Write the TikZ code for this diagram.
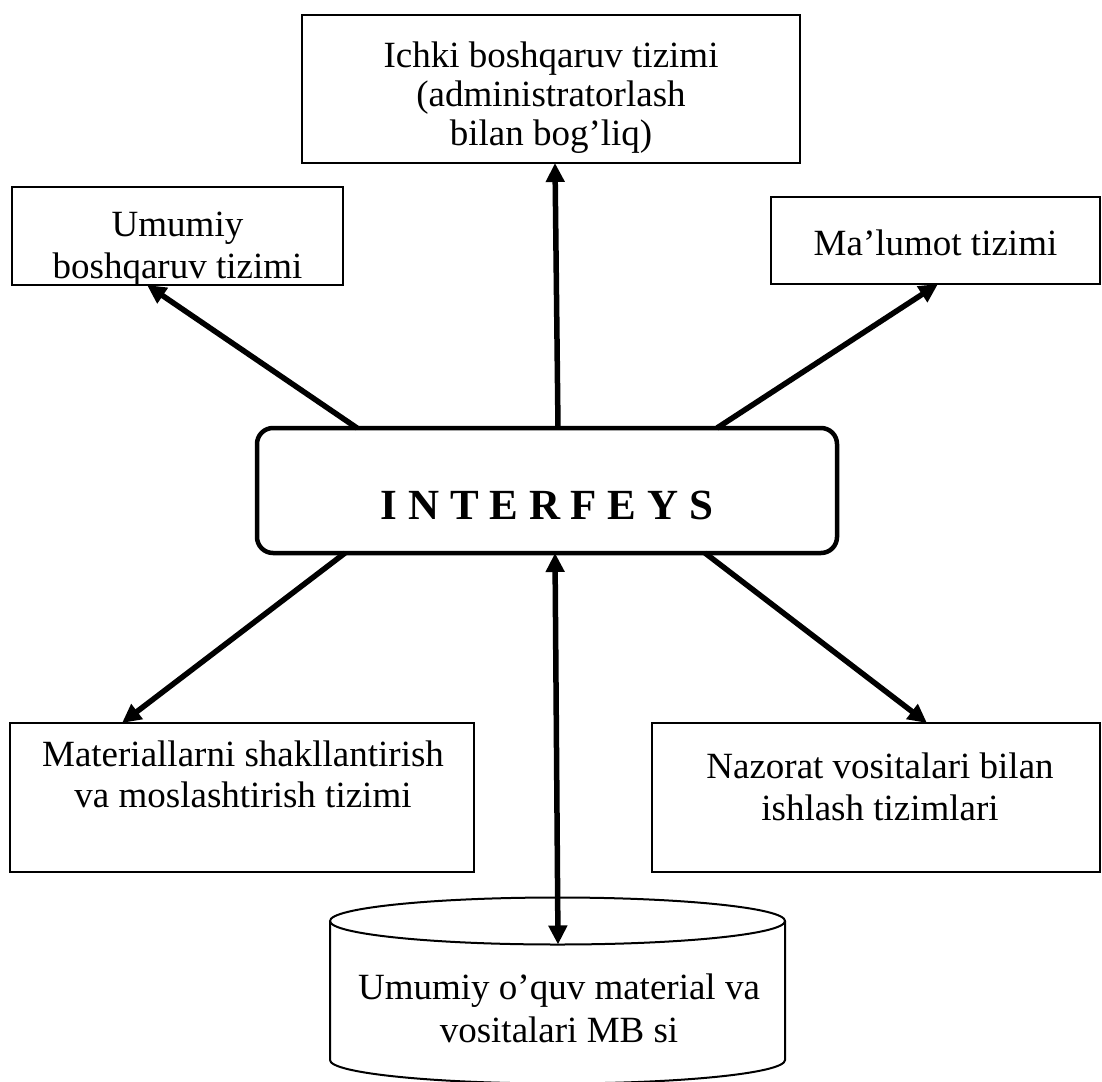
\documentclass[tikz,border=0pt]{standalone}
\usepackage{fontspec}
\setmainfont{Liberation Serif}
\usetikzlibrary{arrows.meta}
\begin{document}
\begin{tikzpicture}[x=1pt,y=-1pt,
  box/.style={draw, line width=2pt, inner sep=0pt, outer sep=0pt, anchor=north west},
  lbl/.style={anchor=base, inner sep=0pt, outer sep=0pt, font=\fontsize{37}{40}\selectfont},
  arr/.style={line width=5.5pt, -{Triangle[length=19pt,width=18pt]}},
  darr/.style={line width=5.5pt, {Triangle[length=19pt,width=18pt]}-{Triangle[length=19pt,width=18pt]}}]
\useasboundingbox (0,0) rectangle (1102,1081);
% boxes
\node[box, minimum width=498pt, minimum height=148pt] (tb) at (302,15) {};
\node[box, minimum width=331pt, minimum height=98pt] (lb) at (12,187) {};
\node[box, minimum width=329pt, minimum height=87pt] (rb) at (771,197) {};
\node[draw, line width=4.5pt, rounded corners=16pt, minimum width=580pt, minimum height=125pt,
      anchor=north west, inner sep=0pt, outer sep=0pt] (ctr) at (257,428) {};
\node[box, minimum width=464pt, minimum height=149pt] (blb) at (10,723) {};
\node[box, minimum width=448pt, minimum height=149pt] (brb) at (652,723) {};
% cylinder
\coordinate (cyl) at (557.5,921);
\coordinate (cylf) at (558,944.5);
\draw[line width=2pt] (cyl) ellipse [x radius=227.5pt, y radius=23.5pt];
\draw[line width=2pt] (330,921) -- (330,1060) arc[start angle=180, end angle=360, x radius=227.5pt, y radius=23.5pt] -- (785,921);
% texts
\node[lbl] (tb1) at (551,67) {Ichki boshqaruv tizimi};
\node[lbl] (tb2) at (551,106) {(administratorlash};
\node[lbl] (tb3) at (551,145) {bilan bog’liq)};
\begin{scope}
\clip (lb.south west) rectangle (lb.north east);
\node[lbl] (lb1) at (177.5,236) {Umumiy};
\node[lbl] (lb2) at (177.5,278) {boshqaruv tizimi};
\end{scope}
\node[lbl] (rb1) at (935.5,255) {Ma’lumot tizimi};
\node[anchor=base, inner sep=0pt, outer sep=0pt, font=\fontsize{43}{48}\selectfont\bfseries] (ctrt) at (547,519) {I N T E R F E Y S};
\node[lbl] (blb1) at (243,766) {Materiallarni shakllantirish};
\node[lbl] (blb2) at (243,807) {va moslashtirish tizimi};
\node[lbl] (brb1) at (880,778) {Nazorat vositalari bilan};
\node[lbl] (brb2) at (880,820) {ishlash tizimlari};
\node[lbl] (cy1) at (559,999) {Umumiy o’quv material va};
\node[lbl] (cy2) at (559,1042) {vositalari MB si};
% arrows
\draw[arr] ([xshift=301pt]ctr.north west) -- ([xshift=253pt]tb.south west);
\draw[darr] ([xshift=298pt]ctr.south west) -- (cylf);
\draw[arr] ([xshift=100pt]ctr.north west) -- ([xshift=135pt]lb.south west);
\draw[arr] ([xshift=460pt]ctr.north west) -- ([xshift=167pt]rb.south west);
\draw[arr] ([xshift=88pt]ctr.south west) -- ([xshift=112pt]blb.north west);
\draw[arr] ([xshift=448pt]ctr.south west) -- ([xshift=275pt]brb.north west);
\end{tikzpicture}
\end{document}
